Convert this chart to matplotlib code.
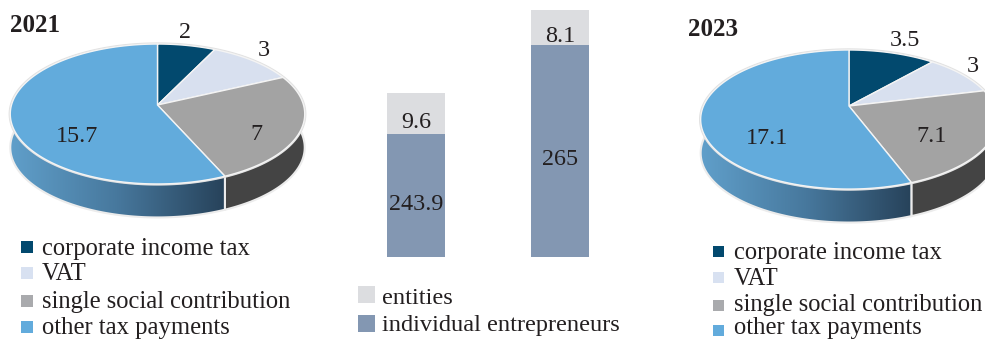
import matplotlib
matplotlib.use('Agg')
import matplotlib.pyplot as plt
import numpy as np
from matplotlib.colors import LinearSegmentedColormap
from matplotlib.patches import Polygon, Rectangle

# tax payments by type
tax_types = ['corporate income tax', 'VAT', 'single social contribution', 'other tax payments']
taxes_2021 = [2, 3, 7, 15.7]
taxes_2023 = [3.5, 3, 7.1, 17.1]

# stacked bars
entities = [9.6, 8.1]
entrepreneurs = [243.9, 265]

top_colors = ['#02496e', '#d8e0ef', '#a3a3a3', '#62abdc']
wall_colors = ['#012c42', '#8f96a0', '#444444', '#3f6c90']
legend_colors = ['#02496e', '#d8e1f1', '#a9aaad', '#62abdc']
ink = '#231f20'
serif = 'Liberation Serif'

wall_cmap = LinearSegmentedColormap.from_list('wall', ['#609fca', '#47789d', '#27425a'])

fig = plt.figure(figsize=(9.85, 3.4), dpi=100)
# whole figure axes in pixels, y pointing down
ax = fig.add_axes([0, 0, 1, 1])
ax.set_xlim(0, 985)
ax.set_ylim(340, 0)
ax.axis('off')


def rim(t, cx, cy, a, c, k):
    # perspective view of a flat circle, t runs clockwise from the far side
    den = 1 + k*np.cos(t)
    return cx + a*np.sin(t)/den, cy - c*np.cos(t)/den


def pie3d(values, cx, cy, a, c, k, depth, label_xy):
    edges = np.cumsum([0] + values)/sum(values)*2*np.pi

    # walls first, the top surface hides whatever is behind it
    for i in range(len(values)):
        t = np.linspace(edges[i], edges[i+1], 200)
        x, y = rim(t, cx, cy, a, c, k)
        xy = np.r_[np.c_[x, y], np.c_[x, y + depth][::-1]]
        if i == len(values) - 1:
            wall = Polygon(xy, closed=True, fc='none', ec='none')
            ax.add_patch(wall)
            front = rim(edges[i], cx, cy, a, c, k)[0]
            left = x.min()
            im = ax.imshow(np.linspace(0, 1, 256)[None, :], cmap=wall_cmap, aspect='auto',
                           extent=[left, front, cy + c + depth + 30, cy - c - 30], zorder=2)
            im.set_clip_path(wall)
            ax.add_patch(Polygon(xy, closed=True, fc='none', ec='#ececec', lw=1.5, zorder=3))
        else:
            ax.add_patch(Polygon(xy, closed=True, fc=wall_colors[i], ec='#ececec', lw=1.5, zorder=2))

    # soft outline round the disc
    t = np.linspace(0, 2*np.pi, 400)
    x, y = rim(t, cx, cy, a, c, k)
    ax.add_patch(Polygon(np.c_[x, y], closed=True, fc='none', ec='#e2e2e2', lw=2.4, zorder=3))

    for i, v in enumerate(values):
        t = np.linspace(edges[i], edges[i+1], 200)
        x, y = rim(t, cx, cy, a, c, k)
        xy = np.r_[[[cx, cy]], np.c_[x, y]]
        ax.add_patch(Polygon(xy, closed=True, fc=top_colors[i], ec='#f4f4f4', lw=1.0, zorder=4))
        ax.text(label_xy[i][0], label_xy[i][1], f'{v:g}', fontsize=17.4, family=serif, color=ink,
                ha='center', va='center', zorder=6)
    ax.set_xlim(0, 985)
    ax.set_ylim(340, 0)


def legend(names, colors, x_box, w, box_ys, x_text, baselines, size):
    for name, color, y, b in zip(names, colors, box_ys, baselines):
        ax.add_patch(Rectangle((x_box, y - w/2), w, w, fc=color, ec='none'))
        ax.text(x_text, b, name, fontsize=size, family=serif, color=ink, ha='left', va='baseline')


pie3d(taxes_2021, 157.5, 105, 146, 68.8, 0.1286, 33.5,
      [(185, 33), (264, 51), (256, 135), (77, 136)])
pie3d(taxes_2023, 849, 106, 145.5, 66.9, 0.1945, 33.5,
      [(905, 40), (973, 66), (932, 137), (767, 139)])

ax.text(10, 26, '2021', fontsize=18, family=serif, weight='bold', color=ink, ha='left', va='center')
ax.text(688, 30, '2023', fontsize=18, family=serif, weight='bold', color=ink, ha='left', va='center')

legend(tax_types, legend_colors, 21, 12, [247, 273, 301, 327], 42, [255, 280.5, 307.7, 333.7], 17.7)
legend(tax_types, legend_colors, 713, 11, [251, 277, 305, 330], 734, [258.7, 285, 311, 334.2], 17.7)
legend(['entities', 'individual entrepreneurs'], ['#dcdde0', '#8397b2'], 358, 17, [294.5, 323.5], 382,
       [303.7, 331], 17.6)

# bars, the value axis starts well above zero
bar_ax = fig.add_axes([344/985, 1 - 256.7/340, 288/985, 256.7/340])
bar_ax.set_xlim(-0.5, 1.5)
bar_ax.set_ylim(215, 275.54)
bar_ax.axis('off')
pos = np.arange(len(entrepreneurs))
bar_ax.bar(pos, entrepreneurs, width=0.4, color='#8397b2')
bar_ax.bar(pos, entities, width=0.4, bottom=entrepreneurs, color='#dcdde0')
for p, e, s in zip(pos, entrepreneurs, entities):
    bar_ax.annotate(f'{e:g}', (p, (215 + e)/2), xytext=(0, -6.3), textcoords='offset points',
                    fontsize=17.4, family=serif, color=ink, ha='center', va='center')
    bar_ax.annotate(f'{s:g}', (p, e + s/2), xytext=(0, -6.3), textcoords='offset points',
                    fontsize=17.4, family=serif, color=ink, ha='center', va='center')

fig.savefig('out.png', dpi=100)
